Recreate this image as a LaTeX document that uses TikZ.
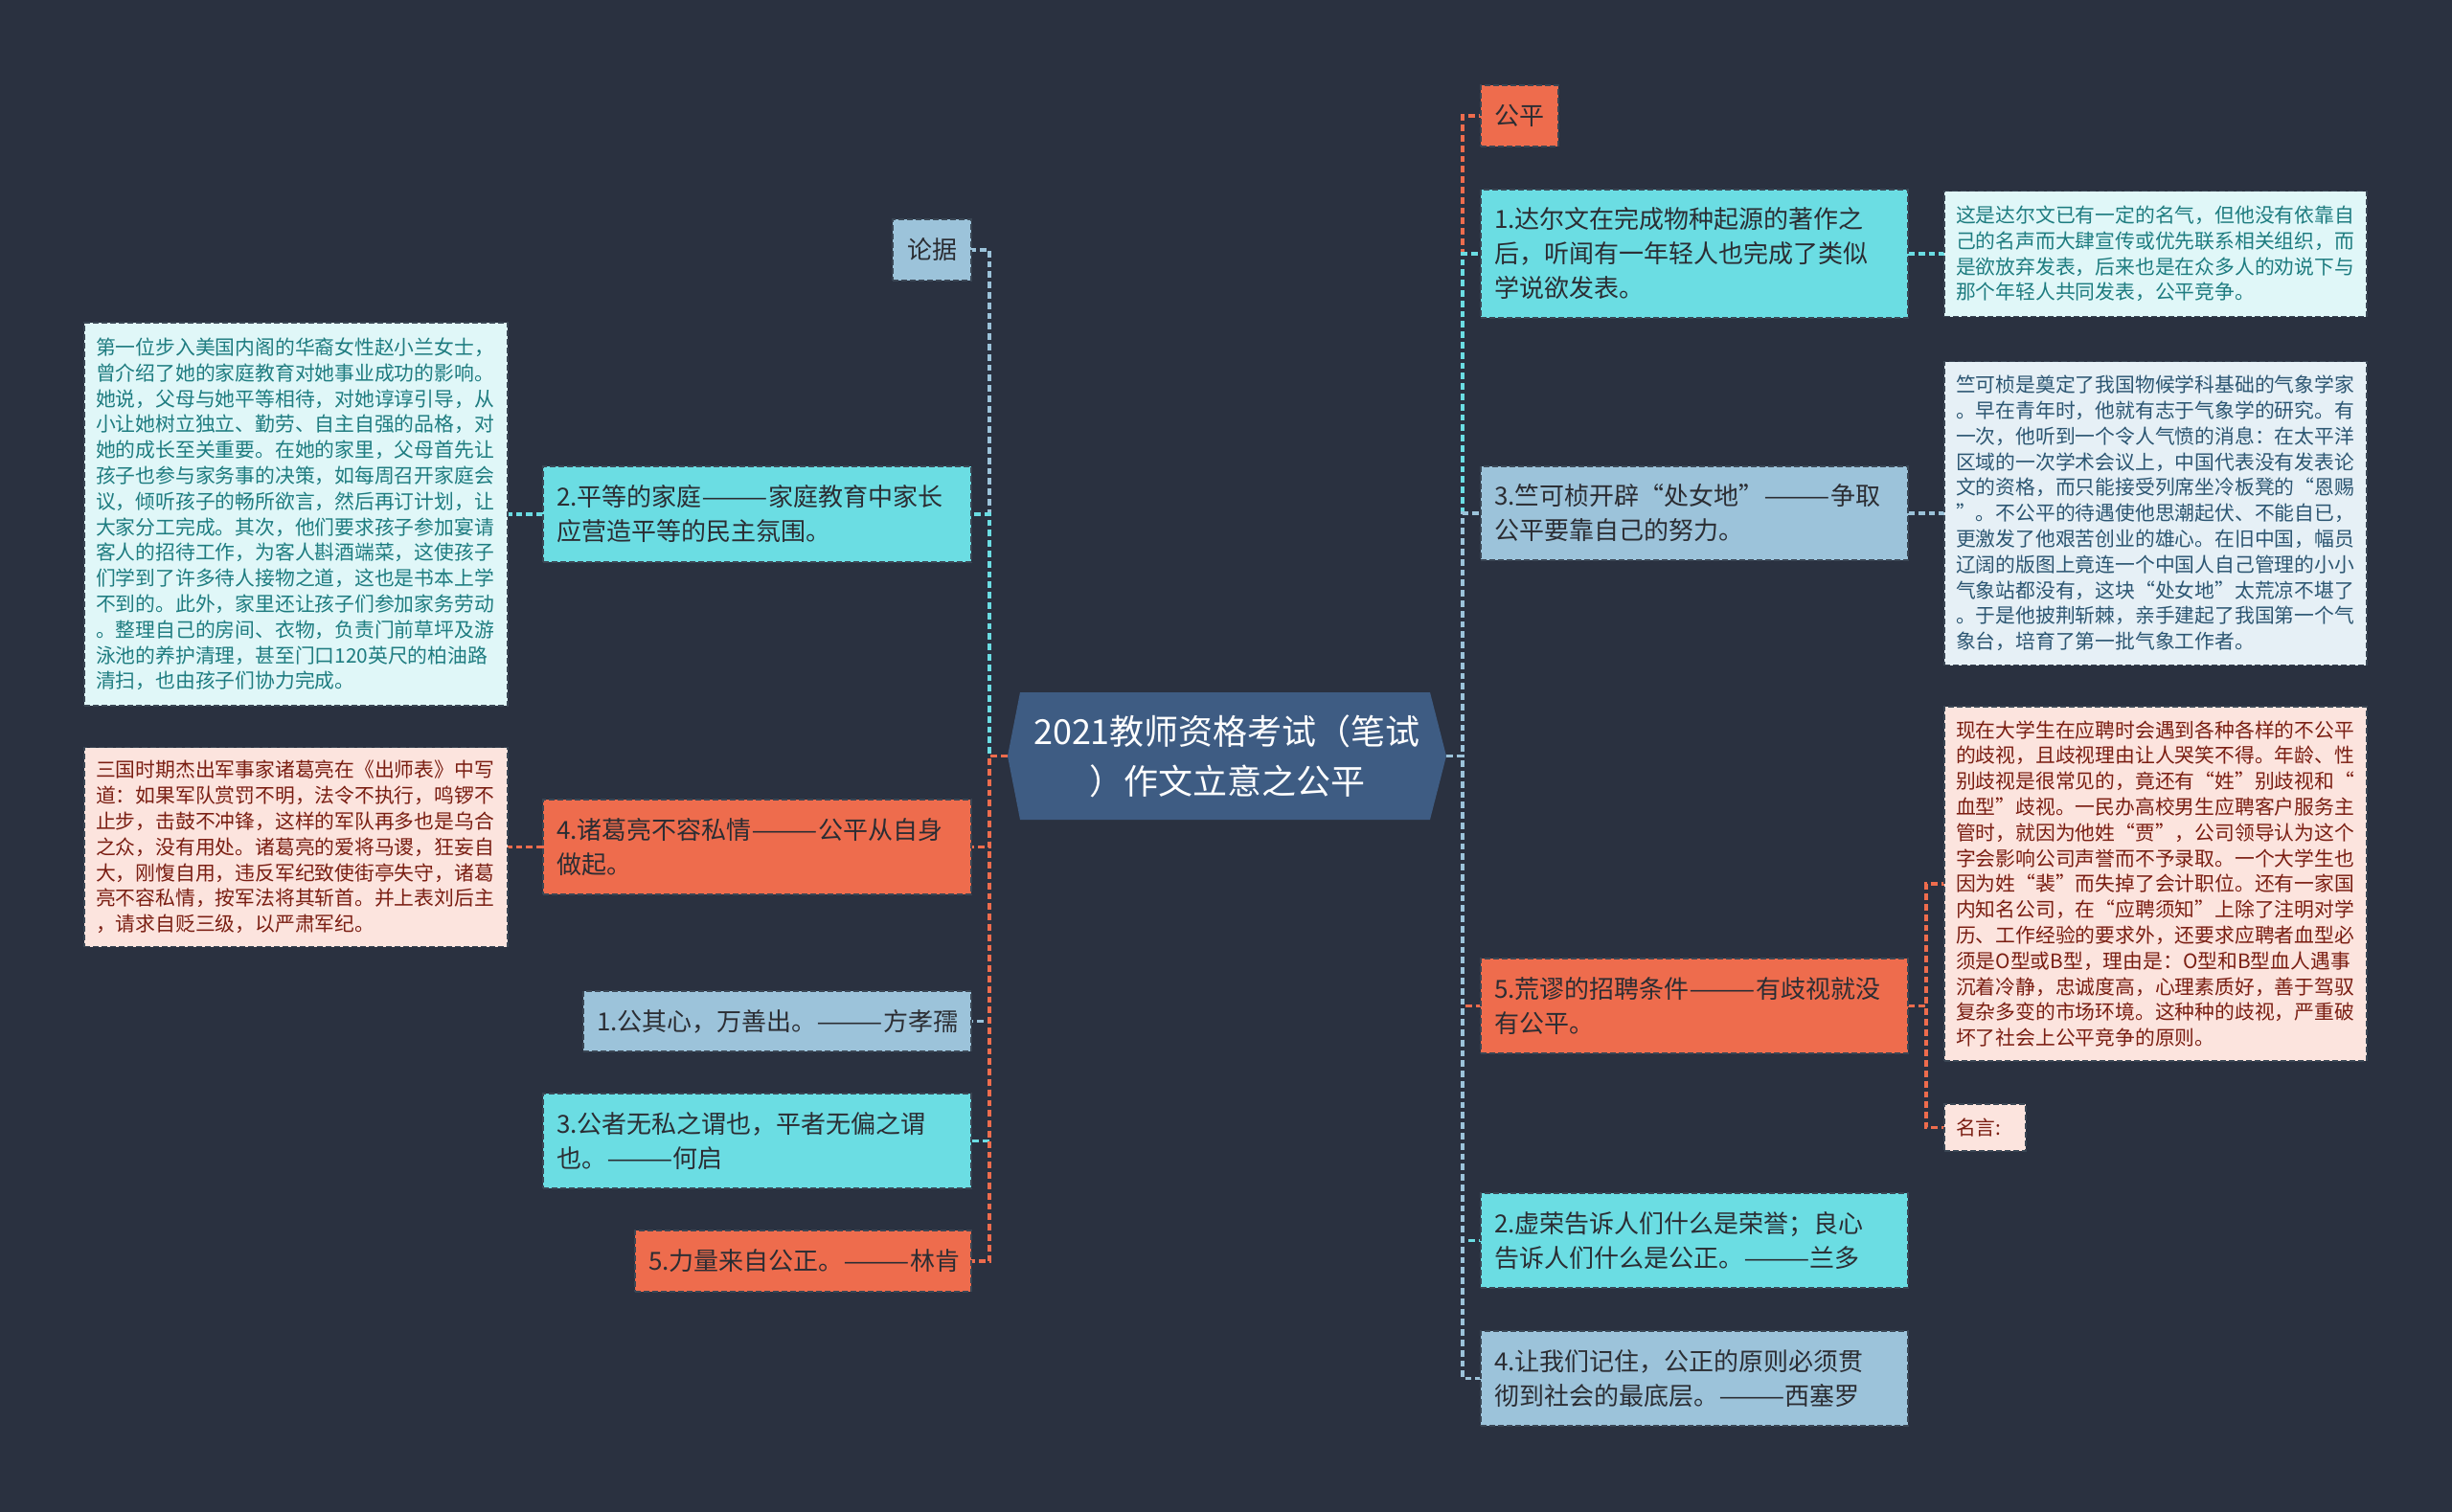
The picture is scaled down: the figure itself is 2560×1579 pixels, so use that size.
\documentclass[tikz,border=0pt]{standalone}
\usepackage{fontspec}
\usepackage{graphicx}
\setmainfont{Noto Sans CJK SC}
\usetikzlibrary{calc}
\pgfdeclarelayer{bglayer}
\pgfdeclarelayer{connlayer}
\pgfsetlayers{bglayer,connlayer,main}
\definecolor{bgc}{HTML}{2A3140}
\definecolor{cOR}{HTML}{EE6C4D}
\definecolor{cCY}{HTML}{6BDDE3}
\definecolor{cLB}{HTML}{9CC3DA}
\definecolor{ctrfill}{HTML}{3E5C83}
\definecolor{bord}{HTML}{3A4654}
\definecolor{txtd}{HTML}{2B2D33}
\definecolor{lfCY}{HTML}{E0F7F8}
\definecolor{lfCYt}{HTML}{1E7C80}
\definecolor{lfLB}{HTML}{E6F0F6}
\definecolor{lfLBt}{HTML}{2C5672}
\definecolor{lfOR}{HTML}{FCE4DE}
\definecolor{lfORt}{HTML}{7A1E12}
\newcommand{\dsh}{\scalebox{1.6}[1]{——}}
\tikzset{
  conn/.style={line width=1.6pt, dash pattern=on 3.4pt off 2pt},
  mainbox/.style={draw=bord, line width=0.6pt, dash pattern=on 3pt off 1.5pt,
    inner xsep=7pt, inner ysep=0pt, outer sep=0pt, align=left, text=txtd,
    font=\fontsize{13pt}{18pt}\selectfont},
  leafbox/.style={draw=bord, line width=0.6pt, dash pattern=on 3pt off 1.5pt,
    inner xsep=6pt, inner ysep=0pt, outer sep=0pt, align=left,
    font=\fontsize{10.4pt}{13.4pt}\selectfont},
  orbox/.style={mainbox, fill=cOR},
  cybox/.style={mainbox, fill=cCY},
  lbbox/.style={mainbox, fill=cLB},
  orleaf/.style={leafbox, fill=lfOR, text=lfORt},
  cyleaf/.style={leafbox, fill=lfCY, text=lfCYt},
  lbleaf/.style={leafbox, fill=lfLB, text=lfLBt},
  ctrtext/.style={text=white, align=center, text width=215pt, inner sep=0pt,
    font=\fontsize{18pt}{26pt}\selectfont},
}
\begin{document}
\begin{tikzpicture}[x=0.5pt,y=-0.5pt]
\begin{pgfonlayer}{bglayer}
\fill[bgc] (0,0) rectangle (2560,1579);
\end{pgfonlayer}
\useasboundingbox (0,0) rectangle (2560,1579);

% ---------- centre ----------
\fill[ctrfill] (1052,789.5) -- (1065,723) -- (1493,723) -- (1510,789.5) -- (1493,856) -- (1065,856) -- cycle;
\node[ctrtext] (ct) at (1281,789.5) {2021教师资格考试（笔试\\）作文立意之公平};
\coordinate (ctl) at (1052,789.5);
\coordinate (ctr) at (1510,789.5);

% ---------- left main ----------
\node[lbbox, align=center, text width=27pt, minimum height=32pt] (lunju) at (973,261) {论据};
\node[cybox, text width=209.5pt, minimum height=50pt] (n2) at (790.5,537) {2.平等的家庭\dsh 家庭教育中家长\\应营造平等的民主氛围。};
\node[orbox, text width=209.5pt, minimum height=49.5pt] (n4) at (790.5,884.5) {4.诸葛亮不容私情\dsh 公平从自身\\做起。};
\node[lbbox, align=center, text width=188.5pt, minimum height=31.5pt] (n1) at (811.5,1066.5) {1.公其心，万善出。\dsh 方孝孺};
\node[cybox, text width=209.5pt, minimum height=49.5pt] (n3) at (790.5,1191.5) {3.公者无私之谓也，平者无偏之谓\\也。\dsh 何启};
\node[orbox, align=center, text width=161.5pt, minimum height=32pt] (n5) at (838.5,1317) {5.力量来自公正。\dsh 林肯};

% ---------- left leaves ----------
\node[cyleaf, text width=209pt, minimum height=200pt] (leafL1) at (309,537) {第一位步入美国内阁的华裔女性赵小兰女士，\\曾介绍了她的家庭教育对她事业成功的影响。\\她说，父母与她平等相待，对她谆谆引导，从\\小让她树立独立、勤劳、自主自强的品格，对\\她的成长至关重要。在她的家里，父母首先让\\孩子也参与家务事的决策，如每周召开家庭会\\议，倾听孩子的畅所欲言，然后再订计划，让\\大家分工完成。其次，他们要求孩子参加宴请\\客人的招待工作，为客人斟酒端菜，这使孩子\\们学到了许多待人接物之道，这也是书本上学\\不到的。此外，家里还让孩子们参加家务劳动\\。整理自己的房间、衣物，负责门前草坪及游\\泳池的养护清理，甚至门口120英尺的柏油路\\清扫，也由孩子们协力完成。};
\node[orleaf, text width=209pt, minimum height=104pt] (leafL2) at (309,884.5) {三国时期杰出军事家诸葛亮在《出师表》中写\\道：如果军队赏罚不明，法令不执行，鸣锣不\\止步，击鼓不冲锋，这样的军队再多也是乌合\\之众，没有用处。诸葛亮的爱将马谡，狂妄自\\大，刚愎自用，违反军纪致使街亭失守，诸葛\\亮不容私情，按军法将其斩首。并上表刘后主\\，请求自贬三级，以严肃军纪。};

% ---------- right main ----------
\node[orbox, align=center, text width=26.5pt, minimum height=32pt] (gp) at (1586.5,121) {公平};
\node[cybox, text width=209pt, minimum height=67pt] (r1) at (1769,265) {1.达尔文在完成物种起源的著作之\\后，听闻有一年轻人也完成了类似\\学说欲发表。};
\node[lbbox, text width=209pt, minimum height=49pt] (r3) at (1769,536) {3.竺可桢开辟“处女地”\dsh 争取\\公平要靠自己的努力。};
\node[orbox, text width=209pt, minimum height=49.5pt] (r5) at (1769,1050.5) {5.荒谬的招聘条件\dsh 有歧视就没\\有公平。};
\node[cybox, text width=209pt, minimum height=49.5pt] (r2) at (1769,1295.5) {2.虚荣告诉人们什么是荣誉；良心\\告诉人们什么是公正。\dsh 兰多};
\node[lbbox, text width=209pt, minimum height=49.5pt] (r4) at (1769,1439.5) {4.让我们记住，公正的原则必须贯\\彻到社会的最底层。\dsh 西塞罗};

% ---------- right leaves ----------
\node[cyleaf, text width=208.5pt, minimum height=65.5pt] (leafR1) at (2250.5,265) {这是达尔文已有一定的名气，但他没有依靠自\\己的名声而大肆宣传或优先联系相关组织，而\\是欲放弃发表，后来也是在众多人的劝说下与\\那个年轻人共同发表，公平竞争。};
\node[lbleaf, text width=208.5pt, minimum height=158.5pt] (leafR3) at (2250.5,536) {竺可桢是奠定了我国物候学科基础的气象学家\\。早在青年时，他就有志于气象学的研究。有\\一次，他听到一个令人气愤的消息：在太平洋\\区域的一次学术会议上，中国代表没有发表论\\文的资格，而只能接受列席坐冷板凳的“恩赐\\”。不公平的待遇使他思潮起伏、不能自已，\\更激发了他艰苦创业的雄心。在旧中国，幅员\\辽阔的版图上竟连一个中国人自己管理的小小\\气象站都没有，这块“处女地”太荒凉不堪了\\。于是他披荆斩棘，亲手建起了我国第一个气\\象台，培育了第一批气象工作者。};
\node[orleaf, text width=208.5pt, minimum height=185pt] (leafR5) at (2250.5,923) {现在大学生在应聘时会遇到各种各样的不公平\\的歧视，且歧视理由让人哭笑不得。年龄、性\\别歧视是很常见的，竟还有“姓”别歧视和“\\血型”歧视。一民办高校男生应聘客户服务主\\管时，就因为他姓“贾”，公司领导认为这个\\字会影响公司声誉而不予录取。一个大学生也\\因为姓“裴”而失掉了会计职位。还有一家国\\内知名公司，在“应聘须知”上除了注明对学\\历、工作经验的要求外，还要求应聘者血型必\\须是O型或B型，理由是：O型和B型血人遇事\\沉着冷静，忠诚度高，心理素质好，善于驾驭\\复杂多变的市场环境。这种种的歧视，严重破\\坏了社会上公平竞争的原则。};
\node[orleaf, text width=30.5pt, minimum height=24.5pt] (leafR5b) at (2072.5,1177.5) {名言:};

% ---------- connectors ----------
\begin{pgfonlayer}{connlayer}
% left side
\draw[conn, cLB] (ctl) -- ++(-19,0) |- (lunju.east);
\draw[conn, cCY] (ctl) -- ++(-19,0) |- (n2.east);
\draw[conn, cLB] (ctl) -- ++(-19,0) |- (n1.east);
\draw[conn, cCY] (ctl) -- ++(-19,0) |- (n3.east);
\draw[conn, cOR] (ctl) -- ++(-19,0) |- (n4.east);
\draw[conn, cOR] (ctl) -- ++(-19,0) |- (n5.east);
% right side
\draw[conn, cOR] (ctr) -- ++(17,0) |- (gp.west);
\draw[conn, cCY] (ctr) -- ++(17,0) |- (r1.west);
\draw[conn, cOR] (ctr) -- ++(17,0) |- (r5.west);
\draw[conn, cCY] (ctr) -- ++(17,0) |- (r2.west);
\draw[conn, cLB] (ctr) -- ++(17,0) |- (r3.west);
\draw[conn, cLB] (ctr) -- ++(17,0) |- (r4.west);
% leaves
\draw[conn, cCY] (n2.west) -- (n2.west -| leafL1.east);
\draw[conn, cOR] (n4.west) -- (n4.west -| leafL2.east);
\draw[conn, cCY] (r1.east) -- (r1.east -| leafR1.west);
\draw[conn, cLB] (r3.east) -- (r3.east -| leafR3.west);
\draw[conn, cOR] (r5.east) -- ++(19,0) |- (leafR5.west);
\draw[conn, cOR] (r5.east) -- ++(19,0) |- (leafR5b.west);
\end{pgfonlayer}
\end{tikzpicture}
\end{document}
